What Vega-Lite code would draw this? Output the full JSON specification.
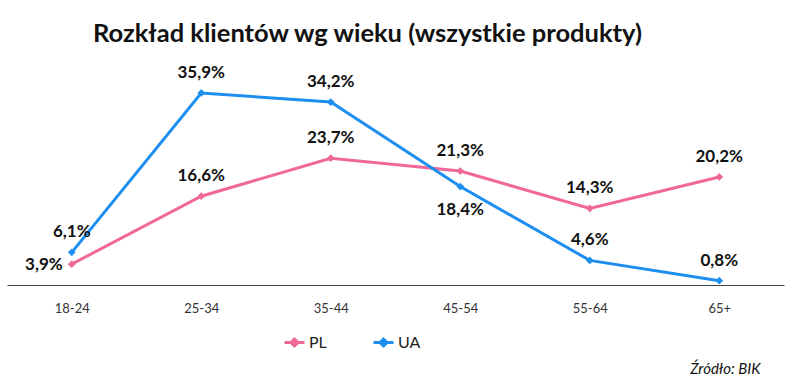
{
  "$schema": "https://vega.github.io/schema/vega-lite/v6.json",
  "width": 777,
  "height": 214,
  "autosize": {"type": "none"},
  "padding": {"left": 7, "top": 71, "right": 16, "bottom": 99},
  "background": "white",
  "config": {"view": {"stroke": null}, "font": "Lato"},
  "title": {"text": "Rozkład klientów wg wieku (wszystkie produkty)", "anchor": "start", "dx": 86, "offset": 16, "fontSize": 25.5, "fontWeight": "bold", "color": "#111", "font": "Lato"},
  "data": {"values": [
    {"age": "18-24", "country": "PL", "value": 3.9},
    {"age": "25-34", "country": "PL", "value": 16.6},
    {"age": "35-44", "country": "PL", "value": 23.7},
    {"age": "45-54", "country": "PL", "value": 21.3},
    {"age": "55-64", "country": "PL", "value": 14.3},
    {"age": "65+", "country": "PL", "value": 20.2},
    {"age": "18-24", "country": "UA", "value": 6.1},
    {"age": "25-34", "country": "UA", "value": 35.9},
    {"age": "35-44", "country": "UA", "value": 34.2},
    {"age": "45-54", "country": "UA", "value": 18.4},
    {"age": "55-64", "country": "UA", "value": 4.6},
    {"age": "65+", "country": "UA", "value": 0.8}
  ]},
  "transform": [{"calculate": "replace(format(datum.value, '.1f'), '.', ',') + '%'", "as": "label"}],
  "encoding": {
    "x": {"field": "age", "type": "ordinal", "sort": null, "scale": {"paddingInner": 0, "paddingOuter": 0},
      "axis": {"labelAngle": 0, "ticks": false, "grid": false, "domainColor": "#444", "domainWidth": 1, "labelFontSize": 13, "labelColor": "#333", "labelPadding": 17, "labelFont": "Lato",
        "title": "Źródło: BIK", "titleFontStyle": "italic", "titleFontWeight": "normal", "titleFontSize": 15, "titleColor": "#111", "titleAnchor": "end", "titleAlign": "right", "titleBaseline": "middle", "titleX": 753, "titleY": 83}},
    "y": {"field": "value", "type": "quantitative", "scale": {"domain": [0, 40]}, "axis": null}
  },
  "layer": [
    {
      "mark": {"type": "line", "strokeWidth": 3, "point": {"shape": "diamond", "size": 60, "filled": true}},
      "encoding": {
        "color": {"field": "country", "type": "nominal", "scale": {"domain": ["PL", "UA"], "range": ["#F0679A", "#1E8FF0"]},
          "legend": {"title": null, "orient": "none", "direction": "horizontal", "legendX": 276, "legendY": 260, "symbolType": "M-1,0H1M-0.35,0L0,-0.35L0.35,0L0,0.35Z", "symbolSize": 400, "symbolStrokeWidth": 3, "labelFontSize": 16, "labelColor": "#222", "labelFont": "Lato", "columnPadding": 40, "labelOffset": 3}}
      }
    },
    {
      "transform": [{"filter": "!(datum.country == 'UA' && datum.age == '45-54') && !(datum.country == 'PL' && datum.age == '18-24')"}],
      "mark": {"type": "text", "dy": -20, "fontSize": 17, "fontWeight": "bold", "color": "#111", "baseline": "middle"},
      "encoding": {"text": {"field": "label"}}
    },
    {
      "transform": [{"filter": "datum.country == 'UA' && datum.age == '45-54'"}],
      "mark": {"type": "text", "dy": 23, "fontSize": 17, "fontWeight": "bold", "color": "#111", "baseline": "middle"},
      "encoding": {"text": {"field": "label"}}
    },
    {
      "transform": [{"filter": "datum.country == 'PL' && datum.age == '18-24'"}],
      "mark": {"type": "text", "dx": -9, "dy": 1, "align": "right", "fontSize": 17, "fontWeight": "bold", "color": "#111", "baseline": "middle"},
      "encoding": {"text": {"field": "label"}}
    }
  ]
}
